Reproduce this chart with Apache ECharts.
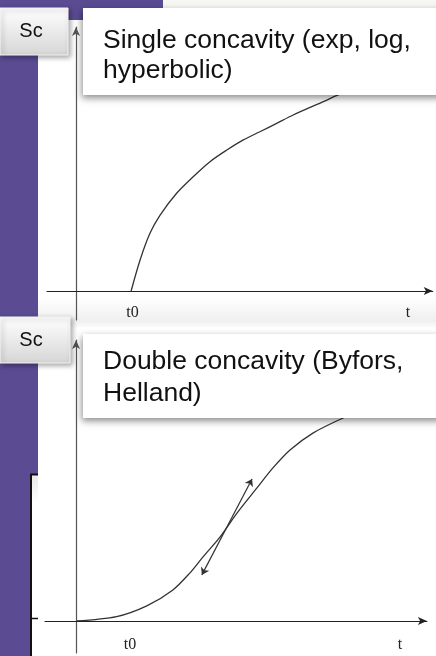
<!DOCTYPE html>
<html>
<head>
<meta charset="utf-8">
<style>
  html, body { margin: 0; padding: 0; background: #ffffff; }
  #chart { width: 436px; height: 656px; }
</style>
<script src="https://cdn.jsdelivr.net/npm/echarts@6/dist/echarts.min.js"></script>
</head>
<body>
<div id="chart"></div>
<script>
// Upper panel: single concavity growth curve S(t), starting at t0
const tSingle = [1.9, 2.21, 2.55, 2.9, 3.47, 4.04, 4.62, 5.2, 5.77, 6.34, 6.92, 7.49, 8.53, 9.21, 10.14];
const sSingle = [0, 1.07, 1.99, 2.62, 3.37, 3.94, 4.46, 4.86, 5.21, 5.49, 5.78, 6.07, 6.53, 6.83, 7.07];

// Lower panel: double concavity (sigmoid) curve S(t)
const tDouble = [0, 1.4, 2.44, 3.34, 3.93, 4.38, 4.97, 5.55, 6.24, 6.79, 7.38, 8.17, 9.21, 10.3];
const sDouble = [0, 0.15, 0.52, 1.07, 1.66, 2.21, 2.9, 3.72, 4.59, 5.28, 5.9, 6.48, 7.0, 7.45];

// Tangent at the inflection point (double-headed arrow)
const tangentStart = [4.34, 1.59];
const tangentEnd = [6.07, 4.9];

// Tick labels along each t axis
const tickValuesTop = [1.95, 11.45];
const tickValuesBottom = [1.86, 11.17];
const tickNames = ['t0', 't'];

const titleSingle = ['Single concavity (exp, log,', 'hyperbolic)'];
const titleDouble = ['Double concavity (Byfors,', 'Helland)'];
const sideLabel = 'Sc';

const PURPLE = '#5a4b92';
const SANS = '"Liberation Sans", Arial, sans-serif';
const SERIF = '"Liberation Serif", "Times New Roman", serif';

function labelFor(values) {
  return function (v) {
    for (let i = 0; i < values.length; i++) {
      if (Math.abs(values[i] - v) < 1e-6) return tickNames[i];
    }
    return '';
  };
}

// The t labels sit just below the zero line, which lies above the grid's lower edge,
// hence the negative margin.
function xAxisDef(gridIndex, min, max, values, margin) {
  return {
    type: 'value', gridIndex: gridIndex, min: min, max: max, z: 20,
    axisLine: { onZero: true, symbol: ['none', 'arrow'], symbolSize: [6, 9],
                lineStyle: { color: '#222', width: 1.2 } },
    axisTick: { show: false },
    splitLine: { show: false },
    axisLabel: { show: true, customValues: values, formatter: labelFor(values),
                 hideOverlap: false, showMinLabel: true, showMaxLabel: true,
                 margin: margin, fontFamily: SERIF, fontSize: 16, color: '#222' }
  };
}

function yAxisDef(gridIndex, min, max) {
  return {
    type: 'value', gridIndex: gridIndex, min: min, max: max, z: 20,
    axisLine: { onZero: true, symbol: ['none', 'arrow'], symbolSize: [6, 9],
                lineStyle: { color: '#555', width: 1.2 } },
    axisTick: { show: false },
    splitLine: { show: false },
    axisLabel: { show: false }
  };
}

function zip(a, b) { return a.map((v, i) => [v, b[i]]); }

function sideButton(y, h, w) {
  return [
    { type: 'rect', z: 50, shape: { x: 0, y: y, width: w, height: h },
      style: { fill: { type: 'linear', x: 0, y: 0, x2: 0, y2: 1,
                       colorStops: [{ offset: 0, color: '#ffffff' }, { offset: 1, color: '#d6d6d6' }] },
               stroke: '#f4f4f4', lineWidth: 1,
               shadowBlur: 5, shadowOffsetX: 2, shadowOffsetY: 2, shadowColor: 'rgba(0,0,0,0.35)' } },
    { type: 'text', z: 51, x: 31, y: y + h / 2,
      style: { text: sideLabel, fontFamily: SANS, fontSize: 20, fill: '#111',
               align: 'center', verticalAlign: 'middle' } }
  ];
}

function callout(y, h, lines, baselines) {
  const els = [
    { type: 'rect', z: 60, shape: { x: 83, y: y, width: 360, height: h },
      style: { fill: '#ffffff', shadowBlur: 7, shadowOffsetX: -1, shadowOffsetY: 3,
               shadowColor: 'rgba(0,0,0,0.45)' } }
  ];
  lines.forEach((txt, i) => {
    els.push({ type: 'text', z: 61, x: 103, y: baselines[i],
      style: { text: txt, fontFamily: SANS, fontSize: 26.5, fill: '#111',
               align: 'left', verticalAlign: 'bottom' } });
  });
  return els;
}

const chart = echarts.init(document.getElementById('chart'), null, { renderer: 'canvas' });

const backdrop = [
  // slide background strips
  { type: 'rect', shape: { x: 163, y: 0, width: 273, height: 9 }, style: { fill: '#f7f7f3' } },
  { type: 'rect', shape: { x: 0, y: 0, width: 163, height: 20 }, style: { fill: PURPLE } },
  { type: 'rect', shape: { x: 0, y: 0, width: 38, height: 474 }, style: { fill: PURPLE } },
  { type: 'rect', shape: { x: 0, y: 474, width: 31, height: 182 }, style: { fill: PURPLE } },
  // edge of a framed figure peeking out on the left
  { type: 'rect', shape: { x: 32, y: 475, width: 6, height: 181 },
    style: { fill: { type: 'linear', x: 0, y: 0, x2: 0, y2: 1,
                     colorStops: [{ offset: 0, color: '#e8e8e8' }, { offset: 0.15, color: '#ffffff' }, { offset: 1, color: '#ffffff' }] } } },
  { type: 'line', shape: { x1: 31, y1: 474, x2: 31, y2: 656 }, style: { stroke: '#111', lineWidth: 2 } },
  { type: 'line', shape: { x1: 30, y1: 474.5, x2: 38, y2: 474.5 }, style: { stroke: '#111', lineWidth: 2 } },
  { type: 'line', shape: { x1: 31, y1: 618.5, x2: 38, y2: 618.5 }, style: { stroke: '#111', lineWidth: 1.5 } },
  // soft gray band below the upper plot
  { type: 'rect', shape: { x: 38, y: 297, width: 398, height: 30 },
    style: { fill: { type: 'linear', x: 0, y: 0, x2: 0, y2: 1,
                     colorStops: [{ offset: 0, color: 'rgba(235,235,235,0)' }, { offset: 0.8, color: 'rgba(235,235,235,0.8)' }, { offset: 1, color: 'rgba(245,245,245,0.5)' }] } } }
];

const overlays = []
  .concat(sideButton(8, 47, 68))
  .concat(sideButton(317, 46, 70))
  .concat(callout(8, 87, titleSingle, [54, 84]))
  .concat(callout(334, 84, titleDouble, [375, 407]));

chart.setOption({
  backgroundColor: '#ffffff',
  animation: false,
  grid: [
    { left: 47, top: 27.1, width: 385.7, height: 292.9, outerBoundsMode: 'none', containLabel: false },
    { left: 45, top: 340, width: 381.9, height: 312.9, outerBoundsMode: 'none', containLabel: false }
  ],
  xAxis: [
    xAxisDef(0, -1, 12.3, tickValuesTop, -15),
    xAxisDef(1, -1.07, 12.1, tickValuesBottom, -16)
  ],
  yAxis: [
    yAxisDef(0, -1, 9.1),
    yAxisDef(1, -1.1, 9.69)
  ],
  series: [
    { type: 'line', xAxisIndex: 0, yAxisIndex: 0, data: zip(tSingle, sSingle),
      smooth: 0.3, showSymbol: false, lineStyle: { color: '#333', width: 1.3 }, z: 3 },
    { type: 'line', xAxisIndex: 1, yAxisIndex: 1, data: zip(tDouble, sDouble),
      smooth: 0.3, showSymbol: false, lineStyle: { color: '#333', width: 1.3 }, z: 3 },
    { type: 'lines', coordinateSystem: 'cartesian2d', xAxisIndex: 1, yAxisIndex: 1,
      symbol: ['arrow', 'arrow'], symbolSize: 7,
      lineStyle: { color: '#333', width: 1.2, opacity: 1 },
      data: [{ coords: [tangentStart, tangentEnd] }], z: 4 }
  ],
  graphic: [
    { type: 'group', z: -10, silent: true, children: backdrop },
    { type: 'group', z: 100, silent: true, children: overlays }
  ]
});
</script>
</body>
</html>
